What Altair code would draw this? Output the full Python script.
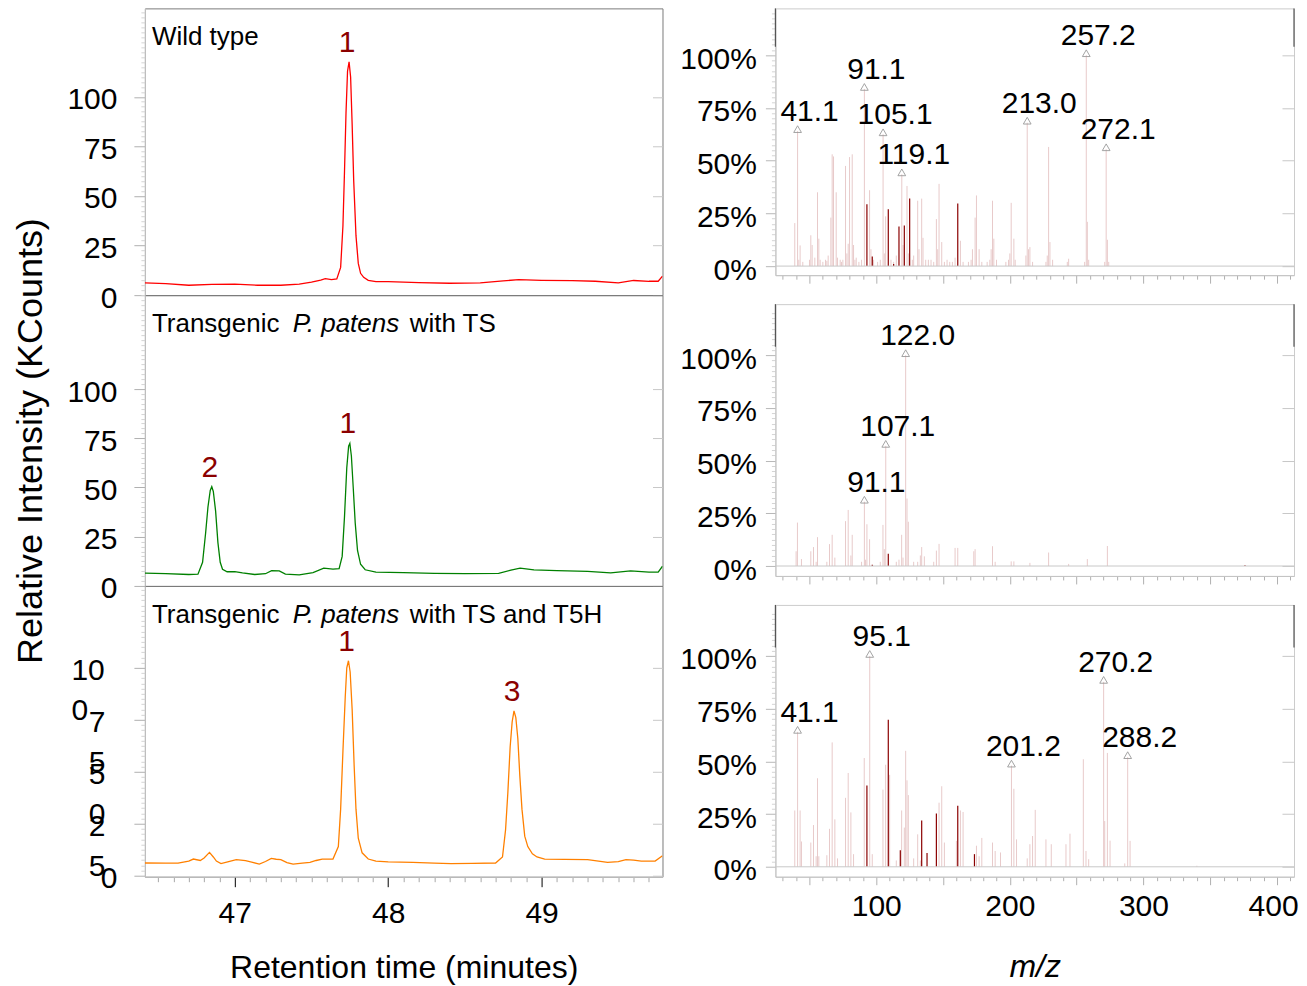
import altair as alt
import pandas as pd

FONT = "Liberation Sans"
DARKRED = "#8b0000"
STICK = "#e8caca"
DARKSTICK = "#8b0000"
TRI = "#9a9a9a"

# ---------------- chromatograms (KCounts vs minutes) ----------------
wt_time = [46.414, 46.55, 46.70, 46.85, 47.00, 47.15, 47.30, 47.42, 47.50, 47.56, 47.59, 47.63,
           47.665, 47.69, 47.705, 47.715, 47.725, 47.735, 47.745, 47.755, 47.765, 47.775, 47.79,
           47.805, 47.82, 47.84, 47.87, 47.92, 48.0, 48.2, 48.4, 48.6, 48.75, 48.85, 49.0, 49.2,
           49.35, 49.5, 49.6, 49.7, 49.76, 49.788]
wt_int = [6.2, 5.8, 5.0, 5.4, 5.6, 5.0, 5.0, 5.6, 6.6, 7.6, 8.3, 7.8,
          8.2, 14, 35, 62, 92, 113, 117.6, 110, 86, 58, 30,
          16, 11, 9, 7.5, 6.8, 6.8, 6.3, 6.0, 6.2, 7.2, 7.8, 7.5, 7.3,
          7.0, 6.2, 7.4, 7.0, 7.0, 9.6]

ts_time = [46.414, 46.55, 46.70, 46.76, 46.79, 46.81, 46.825, 46.84, 46.85, 46.86, 46.875, 46.89,
           46.905, 46.92, 46.95, 47.0, 47.05, 47.13, 47.2, 47.24, 47.29, 47.33, 47.42, 47.51,
           47.58, 47.64, 47.68, 47.70, 47.715, 47.73, 47.742, 47.75, 47.76, 47.772, 47.785, 47.80,
           47.82, 47.85, 47.92, 48.1, 48.3, 48.5, 48.72, 48.8, 48.86, 48.95, 49.1, 49.3, 49.45,
           49.58, 49.7, 49.76, 49.788]
ts_int = [6.5, 6.3, 5.8, 6.0, 12, 27, 40, 48.5, 50.4, 48, 38, 22,
          12, 8.5, 7.2, 7.3, 6.6, 5.8, 6.2, 7.8, 7.6, 6.0, 5.6, 6.8,
          9.0, 8.5, 8.8, 15, 35, 60, 71, 72.4, 66, 50, 32, 18,
          11, 8.2, 7.0, 6.8, 6.4, 6.2, 6.4, 8.0, 9.0, 8.2, 7.8, 7.4, 6.6,
          7.6, 7.0, 7.0, 10]

t5h_time = [46.414, 46.55, 46.63, 46.70, 46.73, 46.775, 46.80, 46.835, 46.86, 46.88, 46.91, 46.96,
            47.01, 47.04, 47.07, 47.11, 47.16, 47.2, 47.238, 47.27, 47.30, 47.34, 47.38, 47.44,
            47.49, 47.53, 47.57, 47.64, 47.675, 47.69, 47.705, 47.72, 47.73, 47.741, 47.752,
            47.765, 47.778, 47.79, 47.805, 47.83, 47.87, 47.92, 48.0, 48.16, 48.3, 48.41, 48.55,
            48.70, 48.745, 48.765, 48.78, 48.795, 48.808, 48.82, 48.832, 48.845, 48.858, 48.872,
            48.89, 48.91, 48.94, 48.97, 49.02, 49.15, 49.3, 49.43, 49.5, 49.55, 49.6, 49.65,
            49.74, 49.788]
t5h_int = [6.1, 6.0, 6.0, 7.0, 8.0, 7.3, 8.5, 11.2, 9.0, 7.0, 5.8, 6.8,
           7.7, 7.5, 7.2, 6.5, 5.6, 6.8, 8.3, 7.9, 7.7, 6.3, 5.6, 6.0,
           6.4, 7.3, 8.0, 8.0, 14, 32, 60, 86, 100, 103.4, 98,
           80, 53, 32, 18, 11, 8.0, 7.0, 6.6, 6.4, 6.0, 5.8, 5.9,
           6.1, 9, 22, 40, 62, 74, 79.3, 76, 66, 48, 32,
           19, 14, 10.5, 9.0, 8.0, 7.8, 7.7, 6.4, 6.8, 7.7, 7.5, 7.0,
           7.0, 9.6]

wt_peak_lab = ["1"]
wt_peak_time = [47.745]
wt_peak_int = [117.6]
ts_peak_lab = ["2", "1"]
ts_peak_time = [46.85, 47.75]
ts_peak_int = [50.4, 72.4]
t5h_peak_lab = ["1", "3"]
t5h_peak_time = [47.741, 48.82]
t5h_peak_int = [103.4, 79.3]

chrom_y_labels = [0, 25, 50, 75, 100]
# third panel: the tick labels wrap onto two lines in the original
t5h_y_label_lines = [["0"], ["2", "5"], ["5", "0"], ["7", "5"], ["10", "0"]]

# ---------------- mass spectra (% vs m/z) ----------------
s1_mz = [39, 42, 43, 45, 50, 51, 52, 54, 56, 57, 58, 60, 62, 63, 64, 66, 67, 68, 70, 71, 73, 74, 75,
         77, 78, 79, 80, 82, 83, 84, 85, 87, 89, 95, 96, 98, 101, 103, 106, 107, 111, 113, 115, 120,
         123, 124, 127, 128, 131, 132, 134, 135, 137, 139, 141, 143, 145, 146, 147, 149, 151, 153,
         155, 157, 159, 163, 165, 169, 171, 172, 174, 175, 177, 179, 183, 185, 186, 187, 188, 190,
         197, 199, 200, 201, 203, 204, 212, 214, 215, 217, 227, 228, 229, 230, 232, 243, 244, 256,
         258, 259, 271, 273, 274]
s1_int = [20.4, 3, 9.8, 2, 3, 14.6, 10, 4, 35, 13, 3, 2, 3, 2.5, 5, 23, 53, 52, 35, 4, 3, 2, 3,
          47.5, 6, 10.6, 51.7, 53, 10, 3, 4, 2, 3, 36, 8, 3, 2, 3, 6, 23.6, 3, 2, 5, 10,
          38, 6, 3, 5, 31, 8, 32, 13.4, 3, 3, 3, 2, 22.3, 8, 39, 11.4, 2, 3,
          2, 2, 4, 12, 2, 2, 3, 8, 23, 33.5, 8, 2, 2, 3, 8, 31, 13, 3,
          2, 3, 6, 30, 13, 3, 5, 8, 9, 2, 2, 5, 56.5, 11.4, 3, 2, 3.5, 2,
          21, 3, 2, 12.5, 2]
s1_dark_mz = [93, 97, 109, 113, 117, 121, 125, 161]
s1_dark_int = [29.3, 4.6, 27, 1, 18.8, 19.3, 32, 29.7]
s1_lab_mz = [41.1, 91.1, 105.1, 119.1, 213.0, 257.2, 272.1]
s1_lab_int = [64, 84, 62.5, 43.5, 68, 100, 55.4]
s1_lab_txt = ["41.1", "91.1", "105.1", "119.1", "213.0", "257.2", "272.1"]

s2_mz = [40, 41, 44, 51, 53, 55, 56, 63, 65, 67, 69, 77, 79, 81, 82, 89, 92, 93, 95, 103, 105, 106,
         115, 117, 119, 120, 123, 124, 128, 131, 133, 134, 136, 143, 145, 147, 159, 161, 173, 174,
         187, 189, 201, 203, 215, 229, 244, 258, 273]
s2_int = [7, 20.6, 3.3, 7, 9, 2, 13.7, 2, 10.4, 14.8, 4, 21.3, 26.6, 5, 14.8, 2, 3, 19.8, 12.7, 2,
          19.5, 8, 2, 3, 14.8, 4, 32, 21, 2, 2, 5, 9, 4.6, 2, 7.3, 10.5, 8.6, 8.6, 7, 8,
          9.4, 2, 2.2, 2.2, 1.5, 6.4, 1, 3.3, 9.5]
s2_dark_mz = [97, 109, 376]
s2_dark_int = [0.6, 5.8, 0.4]
s2_lab_mz = [91.1, 107.1, 122.0]
s2_lab_int = [30.5, 57, 100]
s2_lab_txt = ["91.1", "107.1", "122.0"]

s3_mz = [39, 43, 44, 51, 53, 55, 56, 57, 63, 65, 67, 69, 71, 77, 79, 81, 83, 91, 97, 105, 107, 110,
         115, 119, 121, 122, 123, 124, 128, 131, 133, 147, 149, 151, 160, 163, 165, 175, 177, 179,
         187, 189, 193, 203, 205, 213, 215, 217, 219, 227, 231, 242, 245, 255, 257, 259, 271, 273,
         275, 286, 290, 340]
s3_int = [26.7, 26.7, 12, 11.5, 19.8, 5, 42, 5, 5.5, 18, 59, 22.5, 4, 32.7, 44.5, 25.8, 6, 51.6, 6,
          36.6, 48.4, 43.6, 3, 26.7, 18.6, 55, 41, 34, 4, 15.4, 3, 30.4, 38.2, 11.5, 12.3, 26.7,
          26, 10, 5, 13.7, 11.5, 7.5, 6.8, 37, 13, 4, 10.7, 14.6, 27, 13, 10.7, 10.7, 15.7, 51,
          7.5, 3.6, 21.7, 54, 12.4, 1.6, 12.3, 0.5]
s3_dark_mz = [93, 109, 118, 134, 138, 145, 161, 173.5]
s3_dark_int = [38.5, 69.7, 7.9, 22, 6.5, 25.3, 29, 6]
s3_lab_mz = [41.1, 95.1, 201.2, 270.2, 288.2]
s3_lab_int = [64, 100, 48, 87.7, 52]
s3_lab_txt = ["41.1", "95.1", "201.2", "270.2", "288.2"]

# ---------------- layout constants ----------------
X_DOM = [46.414, 49.788]
MZ_DOM = [24.5, 412.7]
LEFT_W = 518
RIGHT_W = 519

major25 = "datum.value % 25 === 0 && datum.value <= 100"
is_int = "abs(datum.value - round(datum.value)) < 0.01"


def chrom_yaxis(ymax, title=None, wrapped=False):
    vals = [round(2.5 * k, 1) for k in range(int(ymax / 2.5) + 1)]
    kw = dict(values=vals, labelOverlap=False, grid=False, labelOffset=3,
              labelFontSize={"condition": {"test": major25, "value": 30}, "value": 1},
              tickSize={"condition": {"test": major25, "value": 11}, "value": 4},
              tickColor={"condition": {"test": major25, "value": "#b0b0b0"}, "value": "#d4d4d4"},
              domainColor="#c4c4c4", labelLineHeight=40)
    if wrapped:
        parts = []
        for v, lines in zip(chrom_y_labels, t5h_y_label_lines):
            if len(lines) == 1:
                parts.append(f"datum.value === {v} ? '{lines[0]}'")
            else:
                parts.append(f"datum.value === {v} ? ['{lines[0]}', '{lines[1]}']")
        kw["labelExpr"] = " : ".join(parts) + " : ''"
        kw["labelAlign"] = {"condition": {"test": "datum.value === 100", "value": "left"}, "value": "right"}
        kw["labelPadding"] = {"condition": [{"test": "datum.value === 100", "value": 63},
                                            {"test": "datum.value > 0", "value": 29}],
                              "value": 17}
    else:
        kw["labelExpr"] = f"{major25} ? format(datum.value, 'd') : ''"
        kw["labelPadding"] = 17
    if title:
        kw.update(title=title, titleFontSize=36, titlePadding=17)
    else:
        kw.update(title=None)
    return alt.Axis(**kw)


def chrom_right_axis():
    return alt.Axis(orient="right", offset=-10, values=chrom_y_labels, labels=False, domain=False,
                    tickSize=10, tickColor="#c8c8c8", title=None, grid=False)


chrom_xaxis = alt.Axis(
    values=[round(46.5 + 0.1 * k, 1) for k in range(33)],
    labelExpr=f"{is_int} ? format(datum.value, 'd') : ''",
    labelFontSize={"condition": {"test": is_int, "value": 30}, "value": 1},
    tickSize={"condition": {"test": is_int, "value": 10}, "value": 5},
    tickColor={"condition": {"test": is_int, "value": "black"}, "value": "#a8a8a8"},
    labelPadding=12, labelFlush=False, labelOverlap=False, grid=False, domainColor="#c4c4c4",
    title="Retention time (minutes)", titleFontSize=32, titlePadding=24)


def chrom_panel(times, ints, color, plab, ptime, pint, pieces, ydom, height, yaxis, xaxis):
    xs = alt.Scale(domain=X_DOM, nice=False, zero=False)
    ys = alt.Scale(domain=ydom, nice=False, zero=False)
    df = pd.DataFrame({"t": times, "v": ints})
    line = alt.Chart(df).mark_line(color=color, strokeWidth=1.3, clip=True).encode(
        x=alt.X("t:Q", scale=xs, axis=xaxis), y=alt.Y("v:Q", scale=ys, axis=yaxis))
    ghost = alt.Chart(df).mark_line(opacity=0).encode(
        x=alt.X("t:Q", scale=xs, axis=None), y=alt.Y("v:Q", scale=ys, axis=chrom_right_axis()))
    pk = alt.Chart(pd.DataFrame({"t": ptime, "v": pint, "lab": plab})).mark_text(
        color=DARKRED, fontSize=30, dy=-19, dx=-2, baseline="middle").encode(
        x=alt.X("t:Q", scale=xs, axis=None), y=alt.Y("v:Q", scale=ys, axis=None), text="lab:N")
    layers = [line, ghost, pk]
    for txt, style, dx in pieces:
        layers.append(
            alt.Chart(pd.DataFrame({"s": [txt]})).mark_text(
                align="left", baseline="middle", dx=dx, dy=29, fontSize=26, fontStyle=style, color="black"
            ).encode(x=alt.X(datum=X_DOM[0], type="quantitative", scale=xs, axis=None),
                     y=alt.Y(datum=ydom[1], type="quantitative", scale=ys, axis=None),
                     text="s:N"))
    return alt.layer(*layers).resolve_axis(x="independent", y="independent").properties(
        width=LEFT_W, height=height, view=alt.ViewBackground(stroke="#7a7a7a"))


p1 = chrom_panel(wt_time, wt_int, "#ff0000", wt_peak_lab, wt_peak_time, wt_peak_int,
                 [("Wild type", "normal", 7)], [0, 144.6], 287, chrom_yaxis(144.6), None)
p2 = chrom_panel(ts_time, ts_int, "#008000", ts_peak_lab, ts_peak_time, ts_peak_int,
                 [("Transgenic", "normal", 7), ("P. patens", "italic", 148), ("with TS", "normal", 265)],
                 [0, 147.7], 291, chrom_yaxis(147.7, title="Relative Intensity (KCounts)"), None)
p3 = chrom_panel(t5h_time, t5h_int, "#ff8000", t5h_peak_lab, t5h_peak_time, t5h_peak_int,
                 [("Transgenic", "normal", 7), ("P. patens", "italic", 148),
                  ("with TS and T5H", "normal", 265)],
                 [-0.5, 139.4], 291, chrom_yaxis(139.4, wrapped=True), chrom_xaxis)

left = alt.vconcat(p1, p2, p3, spacing=0, bounds="flush")


def spec_yaxis():
    return alt.Axis(values=[round(2.5 * k, 1) for k in range(49)],
                    labelExpr=f"{major25} ? datum.value + '%' : ''",
                    labelFontSize={"condition": {"test": major25, "value": 30}, "value": 1},
                    labelOverlap=False, grid=False, labelPadding=9, labelOffset=4,
                    tickSize={"condition": {"test": major25, "value": 10}, "value": 4},
                    tickColor={"condition": {"test": major25, "value": "#b8b8b8"}, "value": "#d4d4d4"},
                    domainColor="#c4c4c4", title=None)


def spec_xaxis(show):
    kw = dict(values=list(range(30, 411, 10)),
              tickSize={"condition": {"test": "datum.value % 50 === 0", "value": 8}, "value": 4},
              tickColor="#b0b0b0", grid=False, domainColor="#c4c4c4", labelFlush=False,
              labelOverlap=False)
    if show:
        kw.update(labelExpr="datum.value % 100 === 0 ? format(datum.value, 'd') : ''",
                  labelFontSize={"condition": {"test": "datum.value % 100 === 0", "value": 30}, "value": 1},
                  labelOffset={"condition": {"test": "datum.value === 400", "value": -4}, "value": 0},
                  labelPadding=7, title="m/z", titleFontSize=32, titleFontStyle="italic",
                  titlePadding=30)
    else:
        kw.update(labels=False, title=None)
    return alt.Axis(**kw)


def spec_panel(mz, inten, dmz, dint, lmz, lint, ltxt, height, ydom, show_x):
    xs = alt.Scale(domain=MZ_DOM, nice=False, zero=False)
    ys = alt.Scale(domain=ydom, nice=False, zero=False)
    light = alt.Chart(pd.DataFrame({"mz": mz + lmz, "pct": inten + lint})).mark_rule(
        color=STICK, strokeWidth=1).encode(
        x=alt.X("mz:Q", scale=xs, axis=spec_xaxis(show_x)),
        y=alt.Y("pct:Q", scale=ys, axis=spec_yaxis()), y2=alt.datum(0))
    dark = alt.Chart(pd.DataFrame({"mz": dmz, "pct": dint})).mark_rule(
        color=DARKSTICK, strokeWidth=1.2).encode(
        x=alt.X("mz:Q", scale=xs, axis=None), y=alt.Y("pct:Q", scale=ys, axis=None), y2=alt.datum(0))
    base = alt.Chart(pd.DataFrame({"z": [0]})).mark_rule(color="#c8c8c8", strokeWidth=1).encode(
        y=alt.Y("z:Q", scale=ys,
                axis=alt.Axis(orient="right", offset=-12, values=chrom_y_labels, labels=False,
                              domain=False, tickSize=12, tickColor="#c8c8c8", title=None, grid=False)))
    # darker upper part of the left/right frame edges
    edge = alt.Chart(pd.DataFrame({"mz": MZ_DOM})).mark_rule(color="#555555", strokeWidth=1.2).encode(
        x=alt.X("mz:Q", scale=xs, axis=None),
        y=alt.Y(datum=ydom[1], type="quantitative", scale=ys, axis=None),
        y2=alt.datum(104))
    ldf = pd.DataFrame({"mz": lmz, "pct": lint, "txt": ltxt})
    tri = alt.Chart(ldf).mark_point(shape="triangle-up", filled=False, color=TRI, size=60,
                                    strokeWidth=0.9, yOffset=-2, opacity=1).encode(
        x=alt.X("mz:Q", scale=xs, axis=None), y=alt.Y("pct:Q", scale=ys, axis=None))
    lab = alt.Chart(ldf).mark_text(fontSize=30, dx=12, dy=-19, baseline="middle", color="black").encode(
        x=alt.X("mz:Q", scale=xs, axis=None), y=alt.Y("pct:Q", scale=ys, axis=None), text="txt:N")
    return alt.layer(light, dark, base, edge, tri, lab).resolve_axis(
        x="independent", y="independent").properties(
        width=RIGHT_W, height=height, view=alt.ViewBackground(stroke="#cccccc"))


r1 = spec_panel(s1_mz, s1_int, s1_dark_mz, s1_dark_int, s1_lab_mz, s1_lab_int, s1_lab_txt,
                267, [-4.3, 122.2], False)
r2 = spec_panel(s2_mz, s2_int, s2_dark_mz, s2_dark_int, s2_lab_mz, s2_lab_int, s2_lab_txt,
                272, [-4.7, 124.2], False)
r3 = spec_panel(s3_mz, s3_int, s3_dark_mz, s3_dark_int, s3_lab_mz, s3_lab_int, s3_lab_txt,
                272, [-4.7, 124.2], True)

right = alt.vconcat(r1, r2, r3, spacing=29, bounds="flush")

chart = alt.hconcat(left, right, spacing=15).properties(
    padding={"left": 4, "top": -2, "right": 0, "bottom": 0}
).configure(font=FONT).configure_axis(
    labelFont=FONT, titleFont=FONT, labelColor="black", titleColor="black",
    titleFontWeight="normal", labelFontSize=30, grid=False
).configure_text(font=FONT).configure_view(stroke="#cccccc")

chart.save("out.html", embed_options={"renderer": "svg", "actions": False})
